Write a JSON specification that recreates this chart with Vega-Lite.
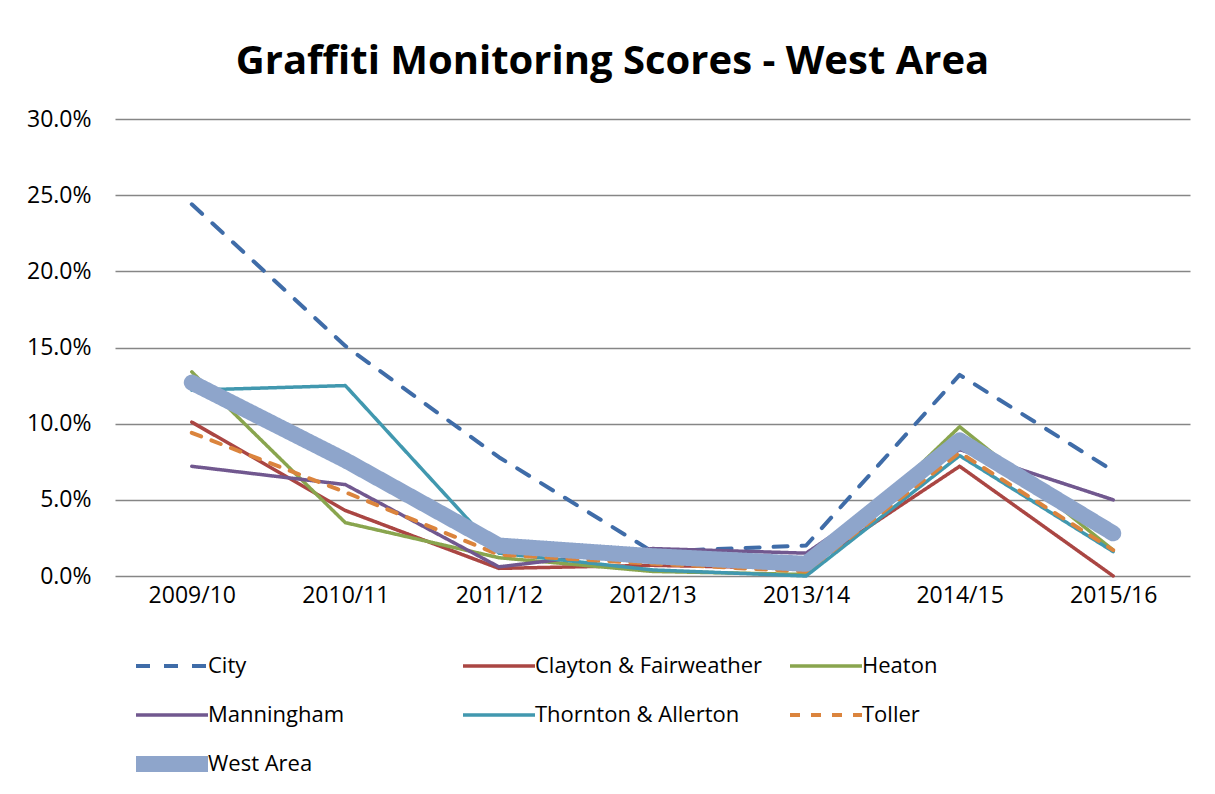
{
  "$schema": "https://vega.github.io/schema/vega-lite/v6.json",
  "width": 1075,
  "height": 457,
  "autosize": {"type": "none"},
  "padding": {"left": 115, "top": 119, "right": 25, "bottom": 218},
  "background": "white",
  "title": {
    "text": "Graffiti Monitoring Scores - West Area",
    "font": "Open Sans",
    "fontSize": 40,
    "fontWeight": "bold",
    "color": "#000000",
    "anchor": "middle",
    "dx": -40,
    "offset": -6,
    "baseline": "alphabetic"
  },
  "data": {
    "values": [
      {"series": "City", "year": "2009/10", "value": 0.244},
      {"series": "City", "year": "2010/11", "value": 0.151},
      {"series": "City", "year": "2011/12", "value": 0.078},
      {"series": "City", "year": "2012/13", "value": 0.016},
      {"series": "City", "year": "2013/14", "value": 0.020},
      {"series": "City", "year": "2014/15", "value": 0.132},
      {"series": "City", "year": "2015/16", "value": 0.069},
      {"series": "Clayton & Fairweather", "year": "2009/10", "value": 0.101},
      {"series": "Clayton & Fairweather", "year": "2010/11", "value": 0.043},
      {"series": "Clayton & Fairweather", "year": "2011/12", "value": 0.005},
      {"series": "Clayton & Fairweather", "year": "2012/13", "value": 0.007},
      {"series": "Clayton & Fairweather", "year": "2013/14", "value": 0.005},
      {"series": "Clayton & Fairweather", "year": "2014/15", "value": 0.072},
      {"series": "Clayton & Fairweather", "year": "2015/16", "value": 0.000},
      {"series": "Heaton", "year": "2009/10", "value": 0.134},
      {"series": "Heaton", "year": "2010/11", "value": 0.035},
      {"series": "Heaton", "year": "2011/12", "value": 0.012},
      {"series": "Heaton", "year": "2012/13", "value": 0.003},
      {"series": "Heaton", "year": "2013/14", "value": 0.001},
      {"series": "Heaton", "year": "2014/15", "value": 0.098},
      {"series": "Heaton", "year": "2015/16", "value": 0.017},
      {"series": "Manningham", "year": "2009/10", "value": 0.072},
      {"series": "Manningham", "year": "2010/11", "value": 0.060},
      {"series": "Manningham", "year": "2011/12", "value": 0.006},
      {"series": "Manningham", "year": "2012/13", "value": 0.018},
      {"series": "Manningham", "year": "2013/14", "value": 0.015},
      {"series": "Manningham", "year": "2014/15", "value": 0.083},
      {"series": "Manningham", "year": "2015/16", "value": 0.050},
      {"series": "Thornton & Allerton", "year": "2009/10", "value": 0.122},
      {"series": "Thornton & Allerton", "year": "2010/11", "value": 0.125},
      {"series": "Thornton & Allerton", "year": "2011/12", "value": 0.015},
      {"series": "Thornton & Allerton", "year": "2012/13", "value": 0.004},
      {"series": "Thornton & Allerton", "year": "2013/14", "value": 0.000},
      {"series": "Thornton & Allerton", "year": "2014/15", "value": 0.079},
      {"series": "Thornton & Allerton", "year": "2015/16", "value": 0.016},
      {"series": "Toller", "year": "2009/10", "value": 0.094},
      {"series": "Toller", "year": "2010/11", "value": 0.055},
      {"series": "Toller", "year": "2011/12", "value": 0.014},
      {"series": "Toller", "year": "2012/13", "value": 0.008},
      {"series": "Toller", "year": "2013/14", "value": 0.003},
      {"series": "Toller", "year": "2014/15", "value": 0.081},
      {"series": "Toller", "year": "2015/16", "value": 0.017},
      {"series": "West Area", "year": "2009/10", "value": 0.127},
      {"series": "West Area", "year": "2010/11", "value": 0.076},
      {"series": "West Area", "year": "2011/12", "value": 0.020},
      {"series": "West Area", "year": "2012/13", "value": 0.013},
      {"series": "West Area", "year": "2013/14", "value": 0.008},
      {"series": "West Area", "year": "2014/15", "value": 0.089},
      {"series": "West Area", "year": "2015/16", "value": 0.028}
    ]
  },
  "mark": {"type": "line", "strokeCap": "round", "strokeJoin": "round"},
  "encoding": {
    "x": {
      "field": "year",
      "type": "ordinal",
      "scale": {"padding": 0.5},
      "axis": {"labelAngle": 0, "labelPadding": 8, "grid": false, "title": null}
    },
    "y": {
      "field": "value",
      "type": "quantitative",
      "scale": {"domain": [0, 0.3], "nice": false},
      "axis": {"format": ".1%", "values": [0, 0.05, 0.1, 0.15, 0.2, 0.25, 0.3], "labelPadding": 24, "title": null, "grid": true}
    },
    "color": {
      "field": "series",
      "type": "nominal",
      "scale": {
        "domain": ["City", "Clayton & Fairweather", "Heaton", "Manningham", "Thornton & Allerton", "Toller", "West Area"],
        "range": ["#3F6CA8", "#AA4643", "#89A54E", "#71588F", "#4198AF", "#DB843D", "#8EA5CB"]
      },
      "legend": {
        "title": null,
        "orient": "none",
        "legendX": 13,
        "legendY": 534,
        "columns": 3,
        "direction": "horizontal",
        "gridAlign": "all",
        "symbolType": "stroke",
        "symbolSize": 5184,
        "clipHeight": 26,
        "labelFont": "Open Sans",
        "labelFontSize": 22,
        "labelColor": "#000000",
        "labelOffset": -8,
        "labelLimit": 400,
        "columnPadding": 19,
        "rowPadding": 23
      }
    },
    "strokeDash": {
      "field": "series",
      "type": "nominal",
      "scale": {
        "domain": ["City", "Clayton & Fairweather", "Heaton", "Manningham", "Thornton & Allerton", "Toller", "West Area"],
        "range": [[14, 14], [1, 0], [1, 0], [1, 0], [1, 0], [10, 11], [1, 0]]
      }
    },
    "strokeWidth": {
      "field": "series",
      "type": "ordinal",
      "scale": {
        "type": "ordinal",
        "domain": ["City", "Clayton & Fairweather", "Heaton", "Manningham", "Thornton & Allerton", "Toller", "West Area"],
        "range": [4, 3.5, 3.5, 3.5, 3.5, 4, 16]
      }
    }
  },
  "config": {
    "view": {"stroke": null},
    "axis": {
      "labelFont": "Open Sans",
      "labelFontSize": 23,
      "labelColor": "#000000",
      "gridColor": "#868686",
      "gridWidth": 1.5,
      "gridOpacity": 1,
      "domain": false,
      "ticks": false
    }
  }
}
